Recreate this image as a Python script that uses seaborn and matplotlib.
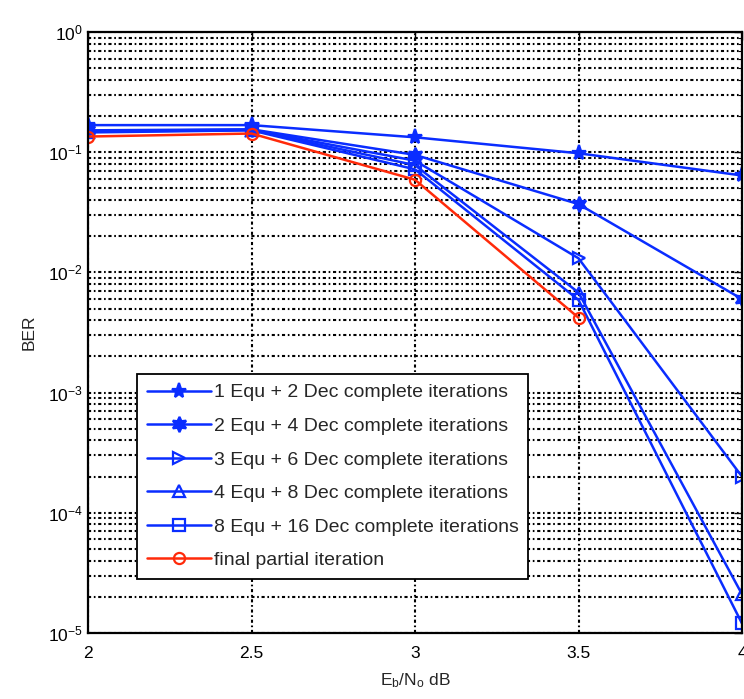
import numpy as np
import pandas as pd
import matplotlib
matplotlib.use("Agg")
import matplotlib.pyplot as plt
import seaborn as sns
from matplotlib.ticker import LogLocator, NullFormatter

sns.set_style("white")
plt.rcParams["font.family"] = ["Liberation Sans", "DejaVu Sans"]
plt.rcParams["mathtext.fontset"] = "custom"
plt.rcParams["mathtext.rm"] = "Liberation Sans"
plt.rcParams["mathtext.it"] = "Liberation Sans"

# Eb/N0 in dB
ebno = [2.0, 2.5, 3.0, 3.5, 4.0]

# BER per receiver configuration
ber_1eq_2dec = [0.168, 0.168, 0.133, 0.098, 0.064]
ber_2eq_4dec = [0.152, 0.155, 0.095, 0.037, 0.006]
ber_3eq_6dec = [0.150, 0.154, 0.085, 0.0131, 2.0e-4]
ber_4eq_8dec = [0.148, 0.153, 0.078, 0.0068, 2.1e-5]
ber_8eq_16dec = [0.146, 0.152, 0.072, 0.0059, 1.2e-5]
ber_partial_x = [2.0, 2.5, 3.0, 3.5]
ber_partial = [0.135, 0.143, 0.059, 0.0042]

labels = [
    "1 Equ + 2 Dec complete iterations",
    "2 Equ + 4 Dec complete iterations",
    "3 Equ + 6 Dec complete iterations",
    "4 Equ + 8 Dec complete iterations",
    "8 Equ + 16 Dec complete iterations",
    "final partial iteration",
]

# (x, y, marker, filled, marker size)
series = [
    (ebno, ber_1eq_2dec, "*", True, 11),
    (ebno, ber_2eq_4dec, (6, 1, 0), True, 11),
    (ebno, ber_3eq_6dec, ">", False, 8),
    (ebno, ber_4eq_8dec, "^", False, 8),
    (ebno, ber_8eq_16dec, "s", False, 8),
    (ber_partial_x, ber_partial, "o", False, 8),
]
colors = ["#0a2dff"] * 5 + ["#ff2a0a"]

fig = plt.figure(figsize=(7.44, 6.99), dpi=100)
ax = fig.add_axes([88 / 744, 1 - 633 / 699, 654 / 744, 601 / 699])

for (xs, ys, mk, filled, ms), lab, col in zip(series, labels, colors):
    df = pd.DataFrame({"x": xs, "y": ys})
    sns.lineplot(data=df, x="x", y="y", ax=ax, color=col, marker=mk,
                 markersize=ms, markerfacecolor=col if filled else "none",
                 markeredgecolor=col, markeredgewidth=1.6, linewidth=1.8,
                 label=lab)

ax.set_yscale("log")
ax.set_xlim(2, 4)
ax.set_ylim(1e-5, 1)
ax.set_xticks([2, 2.5, 3, 3.5, 4])
ax.set_xticklabels(["2", "2.5", "3", "3.5", "4"])
ax.yaxis.set_major_locator(LogLocator(base=10, numticks=10))
ax.yaxis.set_minor_locator(LogLocator(base=10, subs=np.arange(2, 10), numticks=20))
ax.yaxis.set_minor_formatter(NullFormatter())

grid_style = dict(color="black", linestyle=(0, (1.5, 1.3, 0.8, 1.3)), linewidth=1.5)
ax.grid(True, which="major", axis="both", **grid_style)
ax.grid(True, which="minor", axis="y", **grid_style)

ax.tick_params(axis="both", which="both", direction="in", top=True, right=True,
               labelsize=12.5, colors="black")
ax.tick_params(which="major", length=6, width=1.0)
ax.tick_params(which="minor", length=3, width=0.8)
ax.tick_params(axis="x", pad=9)
for sp in ax.spines.values():
    sp.set_color("black")
    sp.set_linewidth(1.6)

ax.set_xlabel(r"E$_b$/N$_o$ dB", fontsize=12.5, labelpad=8)
ax.set_ylabel("BER", fontsize=12.5, labelpad=8)

leg = ax.legend(loc="lower left", bbox_to_anchor=(0.075, 0.09), fontsize=14,
                frameon=True, fancybox=False, framealpha=1, edgecolor="black",
                handlelength=3.3, handletextpad=0.15, labelspacing=0.82,
                borderpad=0.5, borderaxespad=0)
leg.get_frame().set_linewidth(1.3)

fig.savefig("out.png", dpi=100)
